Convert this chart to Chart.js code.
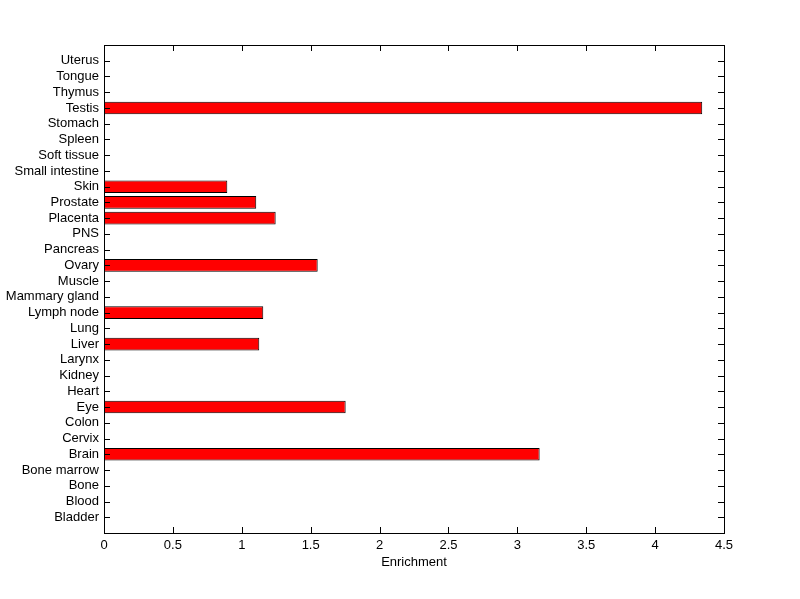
<!DOCTYPE html>
<html>
<head>
<meta charset="utf-8">
<script src="https://cdn.jsdelivr.net/npm/chart.js@4/dist/chart.umd.min.js"></script>
<style>
  html, body { margin: 0; padding: 0; background: #fff; }
  #wrap { width: 800px; height: 599px; }
</style>
</head>
<body>
<div id="wrap"><canvas id="chart"></canvas></div>
<script>
// tissues, top to bottom
const tissues = ['Uterus', 'Tongue', 'Thymus', 'Testis', 'Stomach', 'Spleen', 'Soft tissue',
    'Small intestine', 'Skin', 'Prostate', 'Placenta', 'PNS', 'Pancreas', 'Ovary', 'Muscle',
    'Mammary gland', 'Lymph node', 'Lung', 'Liver', 'Larynx', 'Kidney', 'Heart', 'Eye',
    'Colon', 'Cervix', 'Brain', 'Bone marrow', 'Bone', 'Blood', 'Bladder'];
const enrichment = [0, 0, 0, 4.342, 0, 0, 0,
    0, 0.895, 1.105, 1.246, 0, 0, 1.551, 0,
    0, 1.156, 0, 1.127, 0, 0, 0, 1.754,
    0, 0, 3.162, 0, 0, 0, 0];
const xTicks = [0, 0.5, 1, 1.5, 2, 2.5, 3, 3.5, 4, 4.5];

// one empty slot at each end so the bars sit like matlab's ylim [0 31]
const labels = [''].concat(tissues, ['']);
const values = [null].concat(enrichment, [null]);

const FONT = { family: 'Liberation Sans, Arial, Helvetica, sans-serif', size: 13 };

// box round the plot plus inward tick marks on all four sides
const boxTicks = {
    id: 'boxTicks',
    afterDatasetsDraw(chart) {
        const { ctx, chartArea: a, scales } = chart;
        const len = 6;
        ctx.save();
        ctx.strokeStyle = '#000';
        ctx.lineWidth = 1;
        ctx.beginPath();
        xTicks.forEach(v => {
            const px = Math.round(scales.x.getPixelForValue(v)) + 0.5;
            ctx.moveTo(px, a.bottom);
            ctx.lineTo(px, a.bottom - len);
            ctx.moveTo(px, a.top);
            ctx.lineTo(px, a.top + len);
        });
        tissues.forEach((t, i) => {
            const py = Math.round(scales.y.getPixelForValue(i + 1)) + 0.5;
            ctx.moveTo(a.left, py);
            ctx.lineTo(a.left + len, py);
            ctx.moveTo(a.right, py);
            ctx.lineTo(a.right - len, py);
        });
        ctx.stroke();
        ctx.strokeRect(Math.round(a.left) + 0.5, Math.round(a.top) + 0.5,
            Math.round(a.right - a.left), Math.round(a.bottom - a.top));
        ctx.restore();
    }
};

new Chart(document.getElementById('chart'), {
    type: 'bar',
    data: {
        labels: labels,
        datasets: [{
            data: values,
            backgroundColor: '#ff0000',
            borderColor: '#000000',
            borderWidth: 1,
            borderSkipped: false,
            categoryPercentage: 1,
            barPercentage: 0.8
        }]
    },
    options: {
        indexAxis: 'y',
        responsive: true,
        maintainAspectRatio: false,
        animation: false,
        layout: { padding: { top: 45, right: 76, bottom: 25, left: 0 } },
        plugins: {
            legend: { display: false },
            tooltip: { enabled: false }
        },
        scales: {
            x: {
                type: 'linear',
                min: 0,
                max: 4.5,
                grid: { display: false, drawTicks: false },
                border: { display: false },
                afterBuildTicks: scale => { scale.ticks = xTicks.map(v => ({ value: v })); },
                afterFit: scale => { scale.height = 41; },
                ticks: {
                    color: '#000',
                    font: FONT,
                    padding: 5,
                    maxRotation: 0,
                    callback: v => String(v)
                },
                title: {
                    display: true,
                    text: 'Enrichment',
                    color: '#000',
                    font: FONT,
                    padding: { top: 1, bottom: 4 }
                }
            },
            y: {
                type: 'category',
                offset: false,
                grid: { display: false, drawTicks: false },
                border: { display: false },
                afterFit: scale => { scale.width = 104; },
                ticks: {
                    color: '#000',
                    font: FONT,
                    padding: 5,
                    autoSkip: false
                }
            }
        }
    },
    plugins: [boxTicks]
});
</script>
</body>
</html>
